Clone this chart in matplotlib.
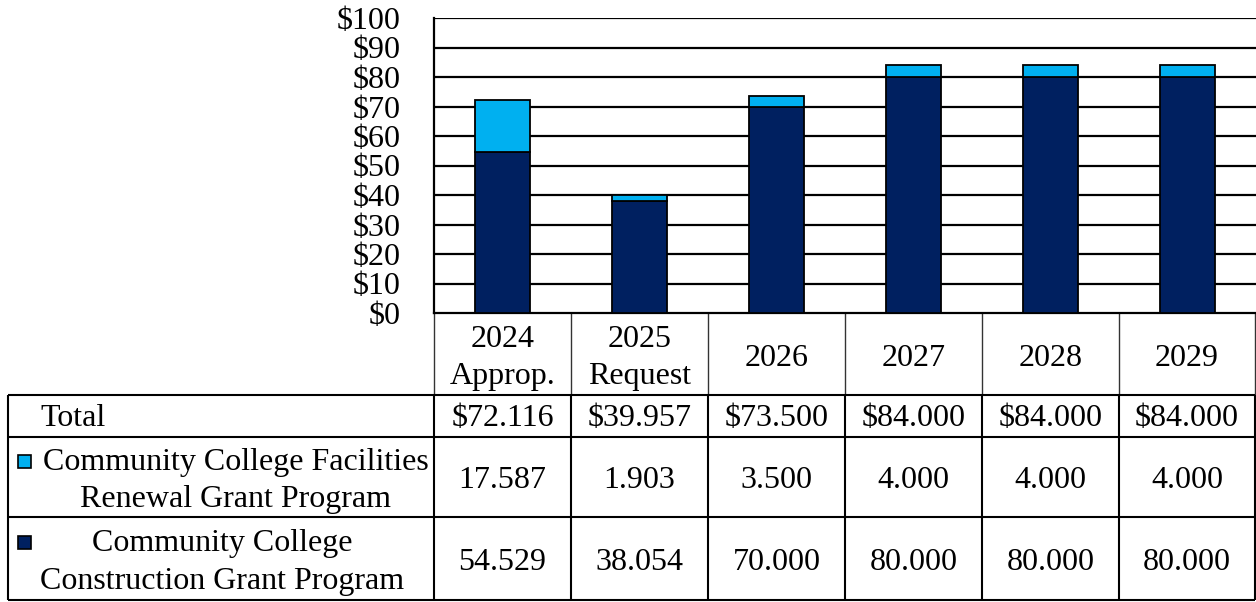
import matplotlib
matplotlib.use("Agg")
import matplotlib.pyplot as plt
from matplotlib.patches import Rectangle

plt.rcParams['font.family'] = ['Liberation Serif', 'DejaVu Serif']

categories = ["2024\nApprop.", "2025\nRequest", "2026", "2027", "2028", "2029"]
construction = [54.529, 38.054, 70.000, 80.000, 80.000, 80.000]
facilities = [17.587, 1.903, 3.500, 4.000, 4.000, 4.000]
totals = [72.116, 39.957, 73.500, 84.000, 84.000, 84.000]
yticks = [0, 10, 20, 30, 40, 50, 60, 70, 80, 90, 100]
series_names = ["Community College Facilities\nRenewal Grant Program",
                "Community College\nConstruction Grant Program"]

dark = "#002060"
light = "#00B0F0"
FS = 23

W, H = 1256, 602
fig = plt.figure(figsize=(W / 100, H / 100), dpi=100)

# overlay axes in pixel coordinates for the table
tab = fig.add_axes([0, 0, 1, 1])
tab.set_xlim(0, W)
tab.set_ylim(H, 0)
tab.axis("off")

# chart axes
px0, px1, py0, py1 = 434, 1256, 18, 313
ax = fig.add_axes([px0 / W, 1 - py1 / H, (px1 - px0) / W, (py1 - py0) / H])
ax.set_zorder(2)
ax.patch.set_alpha(0)
x = list(range(len(categories)))
ax.bar(x, construction, width=0.4, color=dark, edgecolor="black", linewidth=1.3, zorder=3)
ax.bar(x, facilities, width=0.4, bottom=construction, color=light, edgecolor="black",
       linewidth=1.3, zorder=3)
ax.set_xlim(-0.5, len(categories) - 0.5)
ax.set_ylim(0, 100)
ax.set_yticks(yticks)
ax.set_yticklabels([f"${v}" for v in yticks], fontsize=FS)
ax.tick_params(axis="y", length=0, pad=24)
ax.set_xticks([])
for v in yticks[1:]:
    ax.axhline(v, color="black", linewidth=1.6, zorder=1)
for s in ["right", "top"]:
    ax.spines[s].set_visible(False)
ax.spines["left"].set_linewidth(1.6)
ax.spines["bottom"].set_linewidth(1.6)
for lab in ax.get_yticklabels():
    lab.set_verticalalignment("center_baseline")

# table geometry (pixels)
colx = [434 + 137 * i for i in range(7)]
colx[-1] = 1255
label_x0 = 8
y_head0, y_head1 = 313, 395
rows_y = [395, 437, 517, 600]

lw_thick = 1.5
lw_thin = 1.0
LS = 1.38
DY = 4

# header vertical lines
for cx in colx:
    tab.plot([cx, cx], [y_head0, y_head1], color="#333333", lw=lw_thin, solid_capstyle="butt")
# body horizontal lines
for ry in rows_y:
    tab.plot([label_x0, W - 1], [ry, ry], color="black", lw=lw_thick, solid_capstyle="butt")
# body vertical lines
for cx in [label_x0] + colx:
    tab.plot([cx, cx], [rows_y[0], rows_y[-1]], color="black", lw=lw_thick, solid_capstyle="butt")

# header texts
hc = (y_head0 + y_head1) / 2 + DY
for i, c in enumerate(categories):
    cxm = (colx[i] + colx[i + 1]) / 2
    tab.text(cxm, hc, c, ha="center", va="center", fontsize=FS, linespacing=LS)

# Total row
rc = (rows_y[0] + rows_y[1]) / 2 + DY - 1
tab.text(40, rc, "Total", ha="left", va="center", fontsize=FS)
for i, v in enumerate(totals):
    cxm = (colx[i] + colx[i + 1]) / 2
    tab.text(cxm, rc, f"${v:.3f}", ha="center", va="center", fontsize=FS)

# Facilities row
rc = (rows_y[1] + rows_y[2]) / 2 + DY
tab.add_patch(Rectangle((18, 455), 13, 13, facecolor=light, edgecolor="black", lw=1.2))
tab.text(236, rc, series_names[0], ha="center", va="center", fontsize=FS, linespacing=LS)
for i, v in enumerate(facilities):
    cxm = (colx[i] + colx[i + 1]) / 2
    tab.text(cxm, rc, f"{v:.3f}", ha="center", va="center", fontsize=FS)

# Construction row
rc = (rows_y[2] + rows_y[3]) / 2 + DY
tab.add_patch(Rectangle((18, 536), 13, 13, facecolor=dark, edgecolor="black", lw=1.2))
tab.text(222, rc, series_names[1], ha="center", va="center", fontsize=FS, linespacing=LS)
for i, v in enumerate(construction):
    cxm = (colx[i] + colx[i + 1]) / 2
    tab.text(cxm, rc, f"{v:.3f}", ha="center", va="center", fontsize=FS)

fig.savefig("out.png", dpi=100)
